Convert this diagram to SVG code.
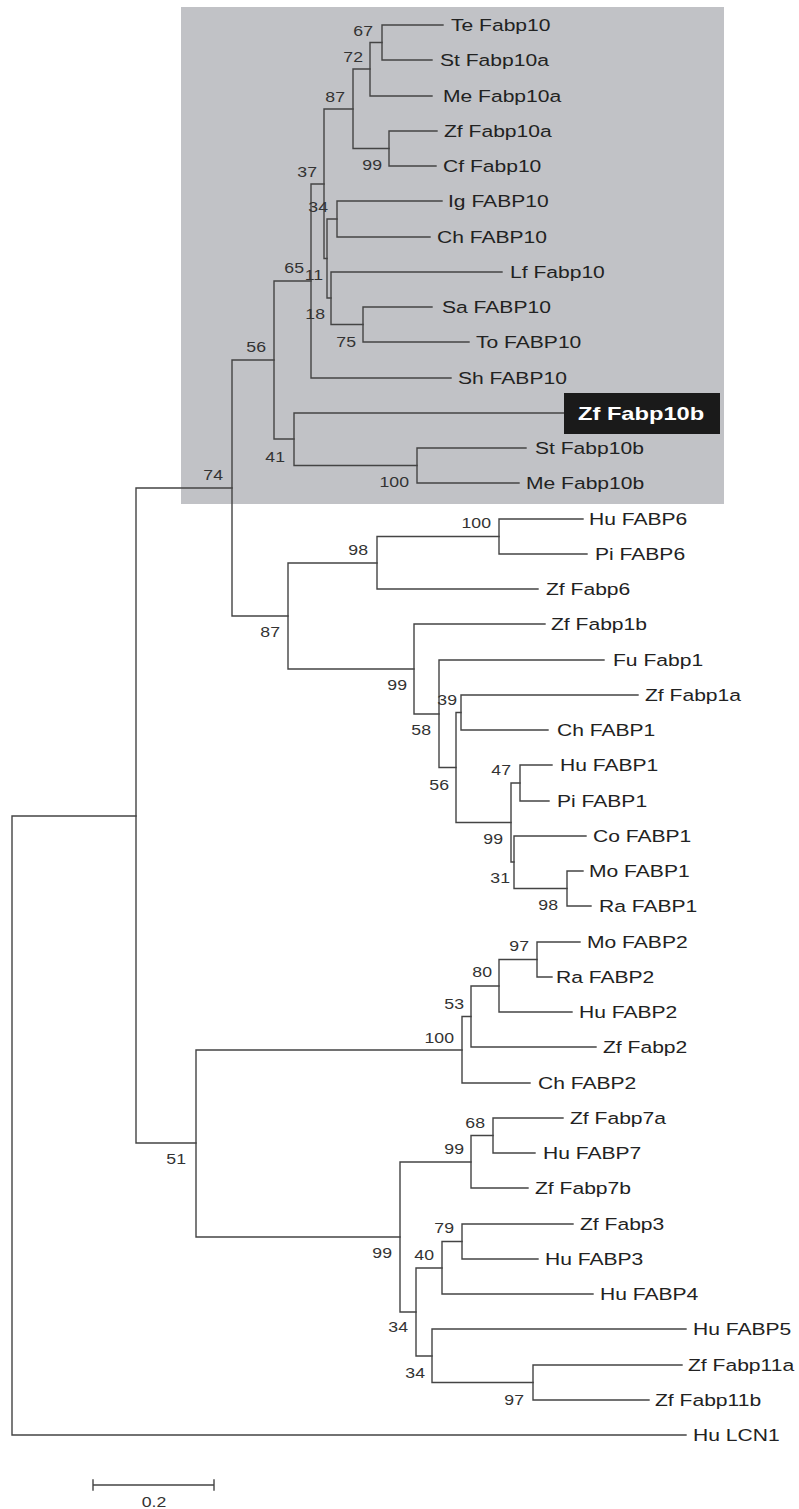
<svg xmlns="http://www.w3.org/2000/svg" width="799" height="1509" viewBox="0 0 799 1509">
<style>
.br{fill:none;stroke:#444;stroke-width:1.4;stroke-linecap:square}
.lf{font-family:"Liberation Sans",Arial,sans-serif;font-size:17px;fill:#222}
.bs{font-family:"Liberation Sans",Arial,sans-serif;font-size:14.5px;fill:#333;text-anchor:end}
.hl{font-family:"Liberation Sans",Arial,sans-serif;font-size:18.5px;font-weight:bold;fill:#fff}
.sc{font-family:"Liberation Sans",Arial,sans-serif;font-size:14.5px;fill:#333;text-anchor:middle}
</style>
<rect width="799" height="1509" fill="#fff"/>
<rect id="fabp10-clade-box" x="181" y="7" width="543" height="497" fill="#c1c2c6"/>
<g id="connectors">
<path class="br" d="M443 25H382V60H432"/>
<path class="br" d="M382 42.5H370V96H432"/>
<path class="br" d="M437 131H389V166H436"/>
<path class="br" d="M370 69H353V148.5H389"/>
<path class="br" d="M442 201H337V237H430"/>
<path class="br" d="M432 307H363V342H469"/>
<path class="br" d="M502 272H331V324.5H363"/>
<path class="br" d="M337 219H327V298H331"/>
<path class="br" d="M353 109H324V258.5H327"/>
<path class="br" d="M324 184H311V378H451"/>
<path class="br" d="M526 448H417V483H519"/>
<path class="br" d="M564 413H294V465.5H417"/>
<path class="br" d="M311 281H274V439H294"/>
<path class="br" d="M583 519H499V554H587"/>
<path class="br" d="M499 536.5H377V589H538"/>
<path class="br" d="M377 563H288V669H414"/>
<path class="br" d="M545 624H414V714H439"/>
<path class="br" d="M604 660H439V767.5H456"/>
<path class="br" d="M638 695H461V730H548"/>
<path class="br" d="M461 712.5H456V822.5H511"/>
<path class="br" d="M552 765H520V801H549"/>
<path class="br" d="M520 783H511V862H514"/>
<path class="br" d="M586 836H514V888.5H567"/>
<path class="br" d="M583 871H567V906H591"/>
<path class="br" d="M274 360H232V616H288"/>
<path class="br" d="M580 942H537V977H552"/>
<path class="br" d="M537 959.5H499V1012H572"/>
<path class="br" d="M499 986H471V1047H596"/>
<path class="br" d="M471 1016.5H462V1083H530"/>
<path class="br" d="M563 1118H493V1153H535"/>
<path class="br" d="M493 1135.5H471V1188H528"/>
<path class="br" d="M573 1224H462V1259H538"/>
<path class="br" d="M462 1241.5H442V1294H593"/>
<path class="br" d="M682 1365H533V1400H649"/>
<path class="br" d="M686 1329H432V1382.5H533"/>
<path class="br" d="M442 1268H416V1356H432"/>
<path class="br" d="M471 1162H400V1312H416"/>
<path class="br" d="M462 1050H196V1237H400"/>
<path class="br" d="M232 488H136V1143H196"/>
<path class="br" d="M136 816H12V1435H686"/>
</g>
<g id="leaves">
<g id="te-fabp10"><text class="lf" transform="translate(451 31) scale(1.24 1)">Te Fabp10</text></g>
<g id="st-fabp10a"><text class="lf" transform="translate(440 66) scale(1.24 1)">St Fabp10a</text></g>
<g id="me-fabp10a"><text class="lf" transform="translate(443 102) scale(1.24 1)">Me Fabp10a</text></g>
<g id="zf-fabp10a"><text class="lf" transform="translate(444 137) scale(1.24 1)">Zf Fabp10a</text></g>
<g id="cf-fabp10"><text class="lf" transform="translate(443 172) scale(1.24 1)">Cf Fabp10</text></g>
<g id="ig-fabp10"><text class="lf" transform="translate(448 207) scale(1.24 1)">Ig FABP10</text></g>
<g id="ch-fabp10"><text class="lf" transform="translate(437 243) scale(1.24 1)">Ch FABP10</text></g>
<g id="lf-fabp10"><text class="lf" transform="translate(510 278) scale(1.24 1)">Lf Fabp10</text></g>
<g id="sa-fabp10"><text class="lf" transform="translate(442 313) scale(1.24 1)">Sa FABP10</text></g>
<g id="to-fabp10"><text class="lf" transform="translate(476 348) scale(1.24 1)">To FABP10</text></g>
<g id="sh-fabp10"><text class="lf" transform="translate(458 384) scale(1.24 1)">Sh FABP10</text></g>
<g id="zf-fabp10b"><rect x="564" y="393" width="156" height="41" fill="#1a1a1a"/><text class="hl" transform="translate(578 420) scale(1.28 1)">Zf Fabp10b</text></g>
<g id="st-fabp10b"><text class="lf" transform="translate(535 454) scale(1.24 1)">St Fabp10b</text></g>
<g id="me-fabp10b"><text class="lf" transform="translate(526 489) scale(1.24 1)">Me Fabp10b</text></g>
<g id="hu-fabp6"><text class="lf" transform="translate(589 525) scale(1.24 1)">Hu FABP6</text></g>
<g id="pi-fabp6"><text class="lf" transform="translate(595 560) scale(1.24 1)">Pi FABP6</text></g>
<g id="zf-fabp6"><text class="lf" transform="translate(546 595) scale(1.24 1)">Zf Fabp6</text></g>
<g id="zf-fabp1b"><text class="lf" transform="translate(551 630) scale(1.24 1)">Zf Fabp1b</text></g>
<g id="fu-fabp1"><text class="lf" transform="translate(613 666) scale(1.24 1)">Fu Fabp1</text></g>
<g id="zf-fabp1a"><text class="lf" transform="translate(645 701) scale(1.24 1)">Zf Fabp1a</text></g>
<g id="ch-fabp1"><text class="lf" transform="translate(557 736) scale(1.24 1)">Ch FABP1</text></g>
<g id="hu-fabp1"><text class="lf" transform="translate(560 771) scale(1.24 1)">Hu FABP1</text></g>
<g id="pi-fabp1"><text class="lf" transform="translate(557 807) scale(1.24 1)">Pi FABP1</text></g>
<g id="co-fabp1"><text class="lf" transform="translate(593 842) scale(1.24 1)">Co FABP1</text></g>
<g id="mo-fabp1"><text class="lf" transform="translate(589 877) scale(1.24 1)">Mo FABP1</text></g>
<g id="ra-fabp1"><text class="lf" transform="translate(599 912) scale(1.24 1)">Ra FABP1</text></g>
<g id="mo-fabp2"><text class="lf" transform="translate(587 948) scale(1.24 1)">Mo FABP2</text></g>
<g id="ra-fabp2"><text class="lf" transform="translate(556 983) scale(1.24 1)">Ra FABP2</text></g>
<g id="hu-fabp2"><text class="lf" transform="translate(579 1018) scale(1.24 1)">Hu FABP2</text></g>
<g id="zf-fabp2"><text class="lf" transform="translate(603 1053) scale(1.24 1)">Zf Fabp2</text></g>
<g id="ch-fabp2"><text class="lf" transform="translate(538 1089) scale(1.24 1)">Ch FABP2</text></g>
<g id="zf-fabp7a"><text class="lf" transform="translate(570 1124) scale(1.24 1)">Zf Fabp7a</text></g>
<g id="hu-fabp7"><text class="lf" transform="translate(543 1159) scale(1.24 1)">Hu FABP7</text></g>
<g id="zf-fabp7b"><text class="lf" transform="translate(535 1194) scale(1.24 1)">Zf Fabp7b</text></g>
<g id="zf-fabp3"><text class="lf" transform="translate(580 1230) scale(1.24 1)">Zf Fabp3</text></g>
<g id="hu-fabp3"><text class="lf" transform="translate(545 1265) scale(1.24 1)">Hu FABP3</text></g>
<g id="hu-fabp4"><text class="lf" transform="translate(600 1300) scale(1.24 1)">Hu FABP4</text></g>
<g id="hu-fabp5"><text class="lf" transform="translate(693 1335) scale(1.24 1)">Hu FABP5</text></g>
<g id="zf-fabp11a"><text class="lf" transform="translate(688 1371) scale(1.24 1)">Zf Fabp11a</text></g>
<g id="zf-fabp11b"><text class="lf" transform="translate(655 1406) scale(1.24 1)">Zf Fabp11b</text></g>
<g id="hu-lcn1"><text class="lf" transform="translate(693 1441) scale(1.24 1)">Hu LCN1</text></g>
</g>
<g id="bootstrap">
<g id="n67"><text class="bs" transform="translate(373 36) scale(1.22 1)">67</text></g>
<g id="n72"><text class="bs" transform="translate(363 62) scale(1.22 1)">72</text></g>
<g id="n87a"><text class="bs" transform="translate(345 102) scale(1.22 1)">87</text></g>
<g id="n99a"><text class="bs" transform="translate(382 170) scale(1.22 1)">99</text></g>
<g id="n37"><text class="bs" transform="translate(317 177) scale(1.22 1)">37</text></g>
<g id="n34a"><text class="bs" transform="translate(328 212) scale(1.22 1)">34</text></g>
<g id="n65"><text class="bs" transform="translate(304 273) scale(1.22 1)">65</text></g>
<g id="n11"><text class="bs" transform="translate(323 280) scale(1.22 1)">11</text></g>
<g id="n18"><text class="bs" transform="translate(325 319) scale(1.22 1)">18</text></g>
<g id="n75"><text class="bs" transform="translate(356 347) scale(1.22 1)">75</text></g>
<g id="n56a"><text class="bs" transform="translate(266 352) scale(1.22 1)">56</text></g>
<g id="n41"><text class="bs" transform="translate(285 462) scale(1.22 1)">41</text></g>
<g id="n100a"><text class="bs" transform="translate(409 487) scale(1.22 1)">100</text></g>
<g id="n74"><text class="bs" transform="translate(223 480) scale(1.22 1)">74</text></g>
<g id="n100b"><text class="bs" transform="translate(491 528) scale(1.22 1)">100</text></g>
<g id="n98a"><text class="bs" transform="translate(368 555) scale(1.22 1)">98</text></g>
<g id="n87b"><text class="bs" transform="translate(280 637) scale(1.22 1)">87</text></g>
<g id="n99b"><text class="bs" transform="translate(407 690) scale(1.22 1)">99</text></g>
<g id="n58"><text class="bs" transform="translate(431 735) scale(1.22 1)">58</text></g>
<g id="n39"><text class="bs" transform="translate(457 705) scale(1.22 1)">39</text></g>
<g id="n56b"><text class="bs" transform="translate(449 790) scale(1.22 1)">56</text></g>
<g id="n47"><text class="bs" transform="translate(511 775) scale(1.22 1)">47</text></g>
<g id="n99c"><text class="bs" transform="translate(503 844) scale(1.22 1)">99</text></g>
<g id="n31"><text class="bs" transform="translate(510 883) scale(1.22 1)">31</text></g>
<g id="n98b"><text class="bs" transform="translate(558 910) scale(1.22 1)">98</text></g>
<g id="n97a"><text class="bs" transform="translate(529 951) scale(1.22 1)">97</text></g>
<g id="n80"><text class="bs" transform="translate(492 977) scale(1.22 1)">80</text></g>
<g id="n53"><text class="bs" transform="translate(464 1009) scale(1.22 1)">53</text></g>
<g id="n100c"><text class="bs" transform="translate(454 1043) scale(1.22 1)">100</text></g>
<g id="n51"><text class="bs" transform="translate(186 1164) scale(1.22 1)">51</text></g>
<g id="n68"><text class="bs" transform="translate(485 1128) scale(1.22 1)">68</text></g>
<g id="n99d"><text class="bs" transform="translate(464 1154) scale(1.22 1)">99</text></g>
<g id="n99e"><text class="bs" transform="translate(392 1258) scale(1.22 1)">99</text></g>
<g id="n79"><text class="bs" transform="translate(454 1233) scale(1.22 1)">79</text></g>
<g id="n40"><text class="bs" transform="translate(434 1260) scale(1.22 1)">40</text></g>
<g id="n34b"><text class="bs" transform="translate(408 1332) scale(1.22 1)">34</text></g>
<g id="n34c"><text class="bs" transform="translate(425 1378) scale(1.22 1)">34</text></g>
<g id="n97b"><text class="bs" transform="translate(524 1405) scale(1.22 1)">97</text></g>
</g>
<g id="scale-bar">
<path class="br" d="M93 1485H214M93 1480V1490M214 1480V1490"/>
<text class="sc" transform="translate(154 1507) scale(1.22 1)">0.2</text>
</g>
</svg>
